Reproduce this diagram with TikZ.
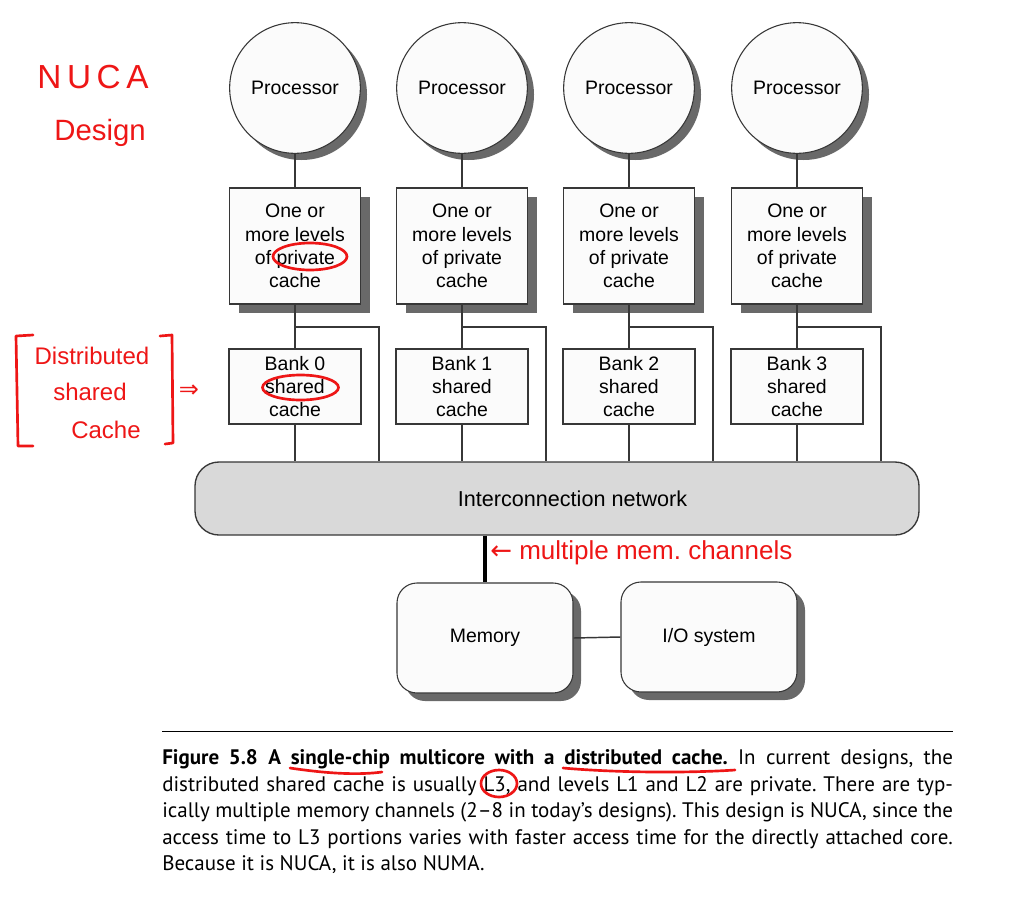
\documentclass[tikz,border=0pt]{standalone}
\usepackage{fontspec}
\setmainfont{Liberation Sans}
\newfontfamily\capfont{PT Sans}
\newfontfamily\symfont{DejaVu Sans}
\usetikzlibrary{shadows}
\frenchspacing

\definecolor{boxline}{RGB}{55,55,55}
\definecolor{boxfill}{RGB}{251,251,251}
\definecolor{shadowgray}{RGB}{105,105,105}
\definecolor{netfill}{RGB}{217,217,217}
\definecolor{penred}{RGB}{238,22,22}

\tikzset{
  wire/.style={line width=1.1pt, draw=boxline},
  memwire/.style={line width=3pt, draw=black},
  boxfont/.style={font=\fontsize{14.6pt}{17.5pt}\selectfont},
  procnode/.style={circle, draw=boxline, line width=0.8pt, fill=boxfill,
    minimum size=98pt, inner sep=0pt, boxfont,
    drop shadow={shadow xshift=5pt, shadow yshift=-5pt, fill=shadowgray, opacity=1}},
  privbox/.style={rectangle, draw=boxline, line width=0.8pt, fill=boxfill,
    minimum width=98.25pt, minimum height=87pt, inner sep=0pt, align=center, boxfont,
    drop shadow={shadow xshift=6.75pt, shadow yshift=-6.75pt, fill=shadowgray, opacity=1}},
  bankbox/.style={rectangle, draw=boxline, line width=0.8pt, fill=boxfill,
    minimum width=99pt, minimum height=56.25pt, inner sep=0pt, align=center, boxfont},
  netbox/.style={rectangle, rounded corners=18pt, draw=boxline, line width=1pt, fill=netfill,
    minimum width=543pt, minimum height=54.75pt, inner sep=0pt},
  sysbox/.style={rectangle, rounded corners=15pt, draw=boxline, line width=0.8pt, fill=boxfill,
    minimum width=132pt, minimum height=82.5pt, inner sep=0pt, boxfont,
    drop shadow={shadow xshift=6pt, shadow yshift=-6pt, fill=shadowgray, opacity=1}},
  capline/.style={anchor=base west, inner sep=0pt, font=\capfont\fontsize{15.75pt}{19.9pt}\selectfont},
  pen/.style={draw=penred, line width=2pt, line cap=round, line join=round},
  pennote/.style={text=penred, inner sep=0pt, font=\fontsize{18pt}{21pt}\selectfont}
}

\begin{document}
\begin{tikzpicture}[x=0.75pt, y=-0.75pt]
  \useasboundingbox (0,0) rectangle (1024,896);
  \fill[white] (0,0) rectangle (1024,896);%

  % Drawing processors, private caches and shared banks
  \foreach \i/\x in {0/295,1/462,2/629,3/797}{
    \node[procnode] (proc\i) at (\x,88) {Processor};%
    \node[privbox] (cache\i) at (\x,246) {One or\\more levels\\of private\\cache};%
    \node[bankbox] (bank\i) at (\x,386.5) {Bank \i\\shared\\cache};%
  }

  % Drawing interconnection network
  \node[netbox] (net) at (557,498.5) {};%
  \node[inner sep=0pt, font=\fontsize{16.2pt}{19pt}\selectfont] (netlabel) at (572.5,498.5) {Interconnection network};%

  % Drawing memory and I/O system
  \node[sysbox] (mem) at (485,638) {Memory};%
  \node[sysbox] (io) at (709,637) {I/O system};%

  % Drawing links to the network
  \foreach \i/\x in {0/295,1/462,2/629,3/797}{
    \coordinate (tap\i) at (\x+84,327);%
    \draw[wire] (proc\i) -- (cache\i);%
    \draw[wire] (cache\i) -- (bank\i);%
    \draw[wire] (tap\i -| cache\i.south) -- (tap\i) -- (tap\i |- net.north);%
    \draw[wire] (bank\i) -- (bank\i.south |- net.north);%
  }
  \draw[memwire] (net.south -| mem.north) -- (mem.north);%
  \draw[wire] (mem.east) -- (io.west);%

  % Drawing caption
  \draw[line width=0.75pt] (162,731) -- (953,731);%
  \node[capline] (cap0) at (162,764) {\makebox[593pt][s]{\textbf{Figure 5.8\enspace A single-chip multicore with a distributed cache.} In current designs, the}};%
  \node[capline] (cap1) at (162,791) {\makebox[593pt][s]{distributed shared cache is usually L3, and levels L1 and L2 are private. There are typ-}};%
  \node[capline] (cap2) at (162,817) {\makebox[593pt][s]{ically multiple memory channels (2–8 in today’s designs). This design is NUCA, since the}};%
  \node[capline] (cap3) at (162,844) {\makebox[593pt][s]{access time to L3 portions varies with faster access time for the directly attached core.}};%
  \node[capline] (cap4) at (162,870) {Because it is NUCA, it is also NUMA.};%

  % Marking notes in red
  \node[pennote, font=\fontsize{25pt}{28pt}\selectfont] (nuca) at (93,77) {N\,U\,C\,A};%
  \node[pennote, font=\fontsize{22pt}{25pt}\selectfont] (design) at (100,133) {Design};%
  \node[pennote] (distnote) at (92,356) {Distributed};%
  \node[pennote] (sharednote) at (90,392) {shared};%
  \node[pennote] (cachenote) at (106,430) {Cache};%
  \node[pennote, font=\symfont\fontsize{18pt}{20pt}\selectfont] (implies) at (189,391) {⇒};%
  \node[pennote, anchor=west, font=\fontsize{19.5pt}{22pt}\selectfont] (memnote) at (490,553) {{\symfont ←} multiple mem. channels};%

  % Drawing brackets
  \draw[pen] (33,335) -- (16,336) -- (18,446) -- (33,446);%
  \draw[pen] (160,336) -- (172,335) -- (173,443) -- (165,444);%

  % Marking words by ellipses
  \draw[pen] (310,256.5) ellipse (37 and 13.5);%
  \draw[pen] (300.5,387.5) ellipse (38 and 12.5);%
  \draw[pen] (499,783.5) ellipse (18 and 13.5);%

  % Drawing underlines
  \draw[pen] (290,768) .. controls (330,774) and (360,775) .. (382,772);%
  \draw[pen] (563,768) .. controls (620,773) and (690,773) .. (735,770);%
\end{tikzpicture}
\end{document}
